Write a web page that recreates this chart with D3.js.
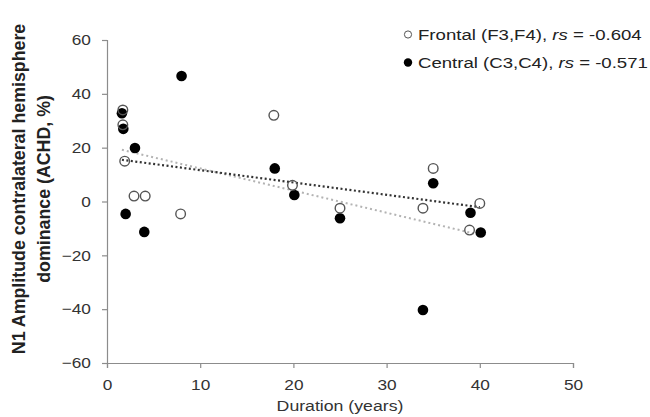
<!DOCTYPE html>
<html>
<head>
<meta charset="utf-8">
<script src="https://cdn.jsdelivr.net/npm/d3@7"></script>
<style>
  body { margin: 0; background: #fff; }
  svg { display: block; font-family: "Liberation Sans", Arial, sans-serif; }
</style>
</head>
<body>
<script>
// data
var frontalX = [1.7, 1.7, 1.9, 2.9, 4.1, 7.9, 17.9, 19.9, 25, 33.9, 35, 38.9, 40];
var frontalY = [34, 28.5, 15, 2, 2, -4.6, 32, 6, -2.5, -2.5, 12.3, -10.6, -0.7];

var centralX = [1.6, 1.75, 2.0, 3.0, 4.0, 8.0, 18, 20.1, 25, 33.9, 35, 39, 40.1];
var centralY = [32.8, 27, -4.6, 19.9, -11.3, 46.6, 12.3, 2.4, -6.2, -40.3, 6.8, -4.2, -11.5];

// trend lines (end points)
var frontalTrendX = [1.6, 40];
var frontalTrendY = [19.2, -12.4];
var centralTrendX = [1.6, 40];
var centralTrendY = [15.5, -2.1];

var xTicks = [0, 10, 20, 30, 40, 50];
var yTicks = [-60, -40, -20, 0, 20, 40, 60];

var width = 650, height = 417;
var stretch = 1.15; // text in the figure is a bit wide

var svg = d3.select("body").append("svg")
    .attr("width", width)
    .attr("height", height);

var x = d3.scaleLinear().domain([0, 50]).range([107, 573]);
var y = d3.scaleLinear().domain([-60, 60]).range([363, 40]);

var axisColor = "#8c8c8c";
var textColor = "#333";

// y axis
var yAxis = svg.append("g")
    .attr("transform", "translate(" + x(0) + ",0)")
    .call(d3.axisLeft(y).tickValues(yTicks).tickSize(5).tickPadding(9)
        .tickFormat(function(d){ return d < 0 ? "\u2212" + Math.abs(d) : d; }));

// x axis
var xAxis = svg.append("g")
    .attr("transform", "translate(0," + y(-60) + ")")
    .call(d3.axisBottom(x).tickValues(xTicks).tickSize(5).tickPadding(11));

[xAxis, yAxis].forEach(function(ax){
    ax.select(".domain").attr("stroke", axisColor).attr("stroke-width", 1.2);
    ax.selectAll(".tick line").attr("stroke", axisColor).attr("stroke-width", 1.2);
    ax.selectAll("text").attr("fill", textColor).style("font-size", "15px")
        .style("font-family", "'Liberation Sans', Arial, sans-serif")
        .attr("transform", "scale(" + stretch + ",1)");
});

// trend lines
var line = d3.line()
    .x(function(d){ return x(d[0]); })
    .y(function(d){ return y(d[1]); });

svg.append("path")
    .datum(d3.zip(frontalTrendX, frontalTrendY))
    .attr("d", line)
    .attr("fill", "none")
    .attr("stroke", "#b3b3b3")
    .attr("stroke-width", 2)
    .attr("stroke-dasharray", "2,3");

svg.append("path")
    .datum(d3.zip(centralTrendX, centralTrendY))
    .attr("d", line)
    .attr("fill", "none")
    .attr("stroke", "#333")
    .attr("stroke-width", 2.2)
    .attr("stroke-dasharray", "2,2.5");

// points
svg.append("g").selectAll("circle")
    .data(d3.zip(centralX, centralY))
    .enter().append("circle")
    .attr("cx", function(d){ return x(d[0]); })
    .attr("cy", function(d){ return y(d[1]); })
    .attr("r", 5.3)
    .attr("fill", "#000");

svg.append("g").selectAll("circle")
    .data(d3.zip(frontalX, frontalY))
    .enter().append("circle")
    .attr("cx", function(d){ return x(d[0]); })
    .attr("cy", function(d){ return y(d[1]); })
    .attr("r", 4.8)
    .attr("fill", "#fff")
    .attr("fill-opacity", 0)
    .attr("stroke", "#555")
    .attr("stroke-width", 1.4);

// legend
var legend = [
    {name: "Frontal (F3,F4), ", r: "-0.604", open: true},
    {name: "Central (C3,C4), ", r: "-0.571", open: false}
];
var lg = svg.append("g").selectAll("g")
    .data(legend)
    .enter().append("g")
    .attr("transform", function(d, i){ return "translate(408," + (34.5 + i * 28) + ")"; });

lg.append("circle")
    .attr("r", function(d){ return d.open ? 3.6 : 4.2; })
    .attr("fill", function(d){ return d.open ? "#fff" : "#000"; })
    .attr("stroke", function(d){ return d.open ? "#555" : "none"; })
    .attr("stroke-width", 1);

var lt = lg.append("text")
    .attr("x", 10 / 1.2)
    .attr("dy", "0.36em")
    .attr("transform", "scale(1.2,1)")
    .attr("fill", "#222")
    .style("font-size", "15.5px");
lt.append("tspan").text(function(d){ return d.name; });
lt.append("tspan").style("font-style", "italic").text("rs");
lt.append("tspan").text(function(d){ return " = " + d.r; });

// axis titles
svg.append("text")
    .attr("transform", "translate(340,411) scale(1.18,1)")
    .attr("text-anchor", "middle")
    .attr("fill", textColor)
    .style("font-size", "15px")
    .text("Duration (years)");

var yt = svg.append("text")
    .attr("transform", "translate(25,189) rotate(-90)")
    .attr("text-anchor", "middle")
    .attr("fill", "#222")
    .style("font-size", "17.8px")
    .style("font-weight", "bold");
yt.append("tspan").attr("x", 0).attr("y", 0).text("N1 Amplitude contralateral hemisphere");
yt.append("tspan").attr("x", 0).attr("y", 24.5).text("dominance (ACHD, %)");
</script>
</body>
</html>
